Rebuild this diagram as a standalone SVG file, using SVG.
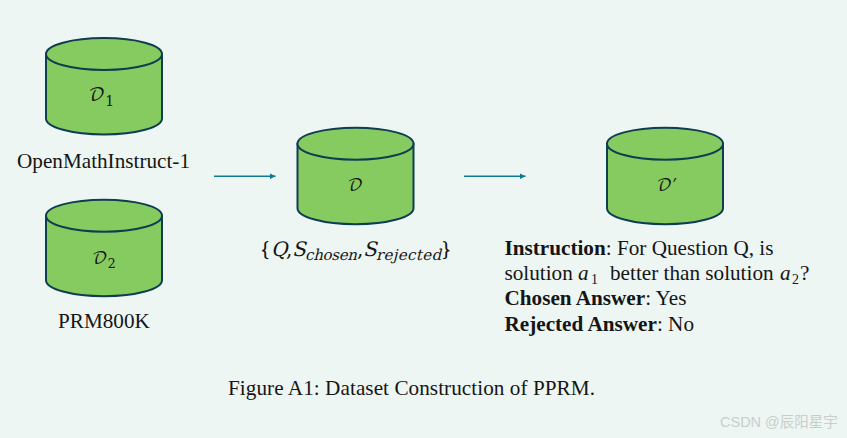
<svg xmlns="http://www.w3.org/2000/svg" width="847" height="438" viewBox="0 0 847 438">
<style>
text{font-family:"Liberation Serif","Times New Roman",serif;font-size:21.200px;fill:#151515}
.cyl{fill:#86cb5f;stroke:#0f3d52;stroke-width:2}
.m{font-family:"DejaVu Math TeX Gyre","Cambria Math","Liberation Serif",serif;font-style:normal}
.i{font-style:italic}
.sub{font-size:14px}
.a{stroke:#0f7a92;stroke-width:1.6;fill:none;marker-end:url(#ah)}
.wm{font-family:"Liberation Sans","Noto Sans CJK SC",sans-serif;font-size:14.500px;fill:#c9cecc}
</style>
<defs>
<marker id="ah" markerUnits="userSpaceOnUse" markerWidth="7" markerHeight="6" refX="6" refY="3" orient="auto"><path d="M0 0L6 3L0 6Z" fill="#0f7a92"/></marker>
<g id="c"><path class="cyl" d="M-58 0V64.500A58 16 0 0 0 58 64.500V0Z"/><ellipse class="cyl" cx="0" cy="0" rx="58" ry="16"/></g>
</defs>
<rect width="847" height="438" fill="#eef6f3"/>
<g id="connectors">
<path class="a" d="M214 176.300H275.500"/>
<path class="a" d="M464 176.300H525.500"/>
</g>
<g id="d1"><use href="#c" x="104" y="54"/>
<text class="m" x="88.500" y="101" style="font-size:18px">𝒟<tspan style="font-size:14px" dy="5">1</tspan></text>
<text x="17" y="168">OpenMathInstruct-1</text></g>
<g id="d2"><use href="#c" x="104" y="215.700"/>
<text class="m" x="92" y="264" style="font-size:17px">𝒟<tspan style="font-size:12.500px" dy="4">2</tspan></text>
<text x="58" y="328">PRM800K</text></g>
<g id="d"><use href="#c" x="355.500" y="143.700"/>
<text class="m" x="347.500" y="191" style="font-size:17px">𝒟</text>
<text class="m" x="261" y="256" style="font-size:20px">{</text>
<text class="m i" x="271" y="256" style="font-size:20px">Q</text>
<text class="m" x="286" y="256" style="font-size:20px">,</text>
<text class="m i" x="292" y="256" style="font-size:20px">S</text>
<text class="m i" x="305" y="260" textLength="52" style="font-size:15px">chosen</text>
<text class="m" x="357" y="256" style="font-size:20px">,</text>
<text class="m i" x="363" y="256" style="font-size:20px">S</text>
<text class="m i" x="376" y="260" textLength="65" style="font-size:15px">rejected</text>
<text class="m" x="442" y="256" style="font-size:20px">}</text></g>
<g id="dprime"><use href="#c" x="665" y="143.700"/>
<text class="m" x="656.500" y="191" style="font-size:17px">𝒟′</text>
<text x="504.500" y="255"><tspan font-weight="bold">Instruction</tspan>: For Question Q, is</text>
<text x="504.500" y="280">solution</text>
<text class="i" x="578" y="280">a</text><text class="sub" x="591" y="284">1</text>
<text x="610" y="280">better than solution</text>
<text class="i" x="780" y="280">a</text><text class="sub" x="792" y="284">2</text><text x="800" y="280">?</text>
<text x="504.500" y="305"><tspan font-weight="bold">Chosen Answer</tspan>: Yes</text>
<text x="504.500" y="331"><tspan font-weight="bold">Rejected Answer</tspan>: No</text></g>
<text x="228" y="395" textLength="367">Figure A1: Dataset Construction of PPRM.</text>
<text class="wm" x="720" y="427">CSDN @辰阳星宇</text>
</svg>
